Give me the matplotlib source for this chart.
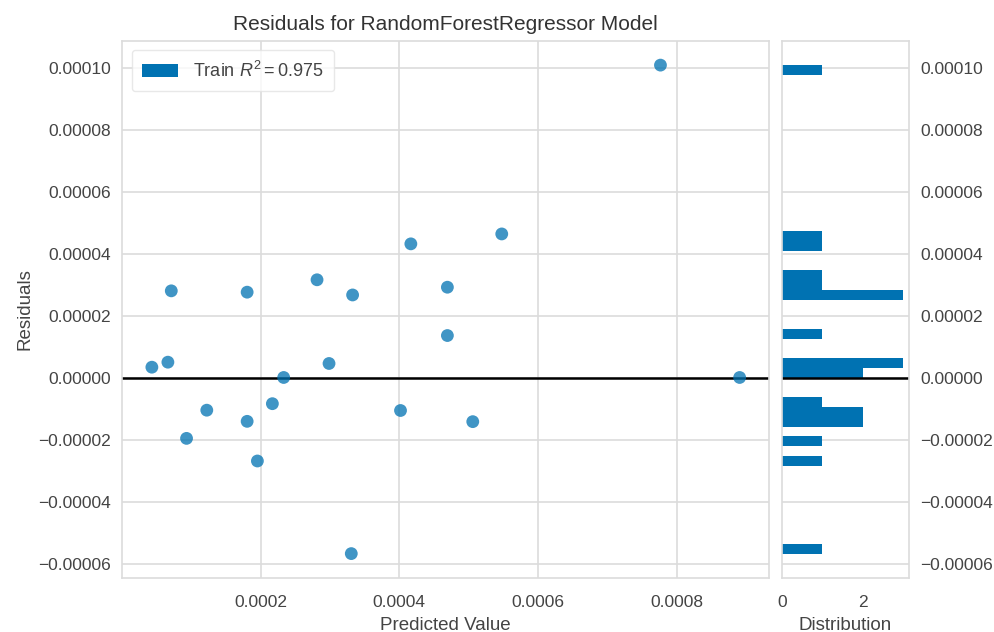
import matplotlib
matplotlib.use("Agg")
import matplotlib.pyplot as plt
from matplotlib.patches import Patch
import numpy as np

# Predicted values and residuals of the training set
predicted = [0.0000433, 0.0000664, 0.0000713, 0.0000933, 0.0001225, 0.0001807,
             0.0001807, 0.0001955, 0.0002171, 0.0002334, 0.0002815, 0.0002988,
             0.0003328, 0.0003309, 0.0004019, 0.0004168, 0.0004695, 0.0004695,
             0.0005061, 0.0005479, 0.0007768, 0.0008910]
residuals = [3.48e-6, 5.10e-6, 28.13e-6, -19.5e-6, -10.4e-6, 27.7e-6,
             -14.0e-6, -26.8e-6, -8.3e-6, 0.16e-6, 31.7e-6, 4.68e-6,
             26.8e-6, -56.7e-6, -10.5e-6, 43.3e-6, 29.3e-6, 13.7e-6,
             -14.1e-6, 46.5e-6, 101.0e-6, 0.16e-6]
r2_train = 0.975
title = "Residuals for RandomForestRegressor Model"

font = ["Liberation Sans", "DejaVu Sans"]
plt.rcParams["font.family"] = font
plt.rcParams["axes.unicode_minus"] = True
plt.rcParams["mathtext.fontset"] = "custom"
plt.rcParams["mathtext.rm"] = "Liberation Sans"
plt.rcParams["mathtext.it"] = "Liberation Sans:italic"
plt.rcParams["mathtext.bf"] = "Liberation Sans:bold"

text_c = "#444444"
grid_c = "#dcdcdc"
bar_c = "#0072B2"

fig = plt.figure(figsize=(9.95, 6.32), dpi=100)
ax = fig.add_axes([0.1231, 0.0854, 0.7729 - 0.1231, 0.9356 - 0.0854])
hax = fig.add_axes([0.786, 0.0854, 0.9136 - 0.786, 0.9356 - 0.0854], sharey=ax)

for a in (ax, hax):
    a.set_facecolor("white")
    a.set_axisbelow(True)
    for s in a.spines.values():
        s.set_color(grid_c)
        s.set_linewidth(1.2)
    a.tick_params(colors=text_c, labelsize=12.5, length=0)
    a.tick_params(axis="x", pad=12)
    a.tick_params(axis="y", pad=8)
    a.grid(True, color=grid_c, linewidth=1.2)

ax.scatter(predicted, residuals, s=85, color=bar_c, alpha=0.75,
           edgecolors="none", zorder=3)
ax.axhline(0, color="black", linewidth=1.8, zorder=2)

ax.set_title(title, fontsize=15, color="#333333", pad=8)
ax.set_xlabel("Predicted Value", fontsize=13.5, color=text_c, labelpad=5)
ax.set_ylabel("Residuals", fontsize=13.5, color=text_c)

handle = Patch(facecolor=bar_c, edgecolor="none")
leg = ax.legend([handle], [f"Train $R^2 = {r2_train}$"], loc="upper left",
                frameon=True, fontsize=13, handlelength=2.0,
                borderpad=0.6, borderaxespad=0.5)
leg.get_frame().set_edgecolor("#e3e3e3")
for t in leg.get_texts():
    t.set_color(text_c)

hax.hist(residuals, bins=50, orientation="horizontal", color=bar_c)
hax.axhline(0, color="black", linewidth=1.8)
hax.grid(False, axis="x")
hax.yaxis.tick_right()
hax.set_xlabel("Distribution", fontsize=13.5, color=text_c, labelpad=5)
plt.setp(hax.get_yticklabels(), visible=True)

fig.savefig("out.png", dpi=100, facecolor="white")
